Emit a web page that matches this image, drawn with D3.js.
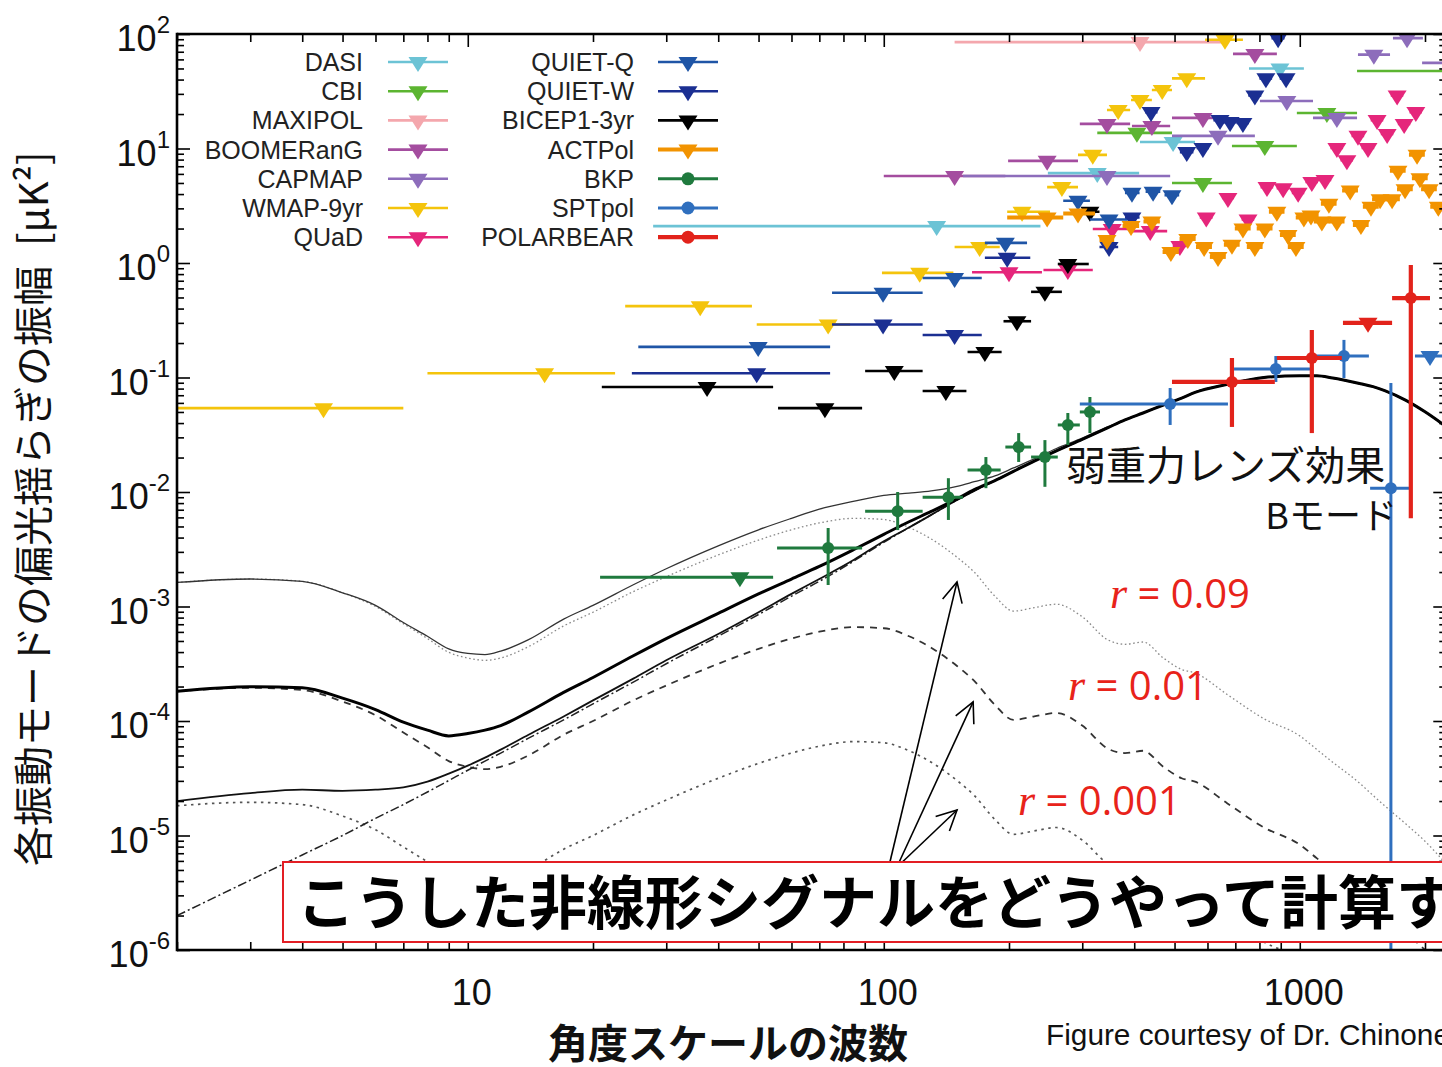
<!DOCTYPE html>
<html lang="ja">
<head>
<meta charset="utf-8">
<title>CMB Bモード偏光パワースペクトル</title>
<script src="https://cdn.jsdelivr.net/npm/d3@7/dist/d3.min.js"></script>
<style>
html,body{margin:0;padding:0;background:#fff;}
svg{display:block;}
</style>
</head>
<body>
<svg id="chart" width="1442" height="1067"></svg>
<script>
// ---------- theory curves: multipole grid and log10 D_ell^BB [μK²] ----------
const ell = [2,3,4,5,6,7,8,9,10,11,12,14,17,20,25,30,40,50,60,70,85,100,115,130,150,165,185,205,230,260,300,345,380,420,470,520,560,670,820,1000,1100,1200,1400,1500,1600,1800,2000,2250];

const lensingLog10 = [-5.70,-5.39,-5.17,-5.00,-4.85,-4.73,-4.62,-4.52,-4.43,-4.35,
  -4.28,-4.15,-3.99,-3.85,-3.66,-3.50,-3.26,-3.07,-2.91,-2.78,
  -2.60,-2.44,-2.31,-2.20,-2.07,-1.99,-1.90,-1.82,-1.73,-1.64,
  -1.54,-1.44,-1.37,-1.31,-1.24,-1.18,-1.13,-1.06,-1.00,-0.985,
  -0.985,-1.005,-1.055,-1.08,-1.115,-1.20,-1.30,-1.43];

const tensorR009Log10 = [-2.79,-2.76,-2.78,-2.88,-3.00,-3.15,-3.28,-3.40,-3.45,-3.47,
  -3.45,-3.35,-3.17,-3.05,-2.87,-2.74,-2.55,-2.42,-2.33,-2.27,
  -2.23,-2.24,-2.31,-2.41,-2.57,-2.70,-2.91,-3.04,-3.01,-2.98,
  -3.09,-3.29,-3.33,-3.31,-3.45,-3.55,-3.58,-3.77,-3.98,-4.13,
  -4.25,-4.36,-4.55,-4.65,-4.74,-4.90,-5.05,-5.25];

const tensorR001Log10 = [-3.74,-3.71,-3.73,-3.83,-3.95,-4.10,-4.23,-4.35,-4.40,-4.42,
  -4.40,-4.30,-4.12,-4.00,-3.82,-3.69,-3.50,-3.37,-3.28,-3.22,
  -3.18,-3.19,-3.26,-3.36,-3.52,-3.65,-3.86,-3.99,-3.96,-3.93,
  -4.04,-4.24,-4.28,-4.26,-4.40,-4.50,-4.53,-4.72,-4.93,-5.08,
  -5.20,-5.31,-5.50,-5.60,-5.69,-5.85,-6.00,-6.20];

const tensorR0001Log10 = [-4.74,-4.71,-4.73,-4.83,-4.95,-5.10,-5.23,-5.35,-5.40,-5.42,
  -5.40,-5.30,-5.12,-5.00,-4.82,-4.69,-4.50,-4.37,-4.28,-4.22,
  -4.18,-4.19,-4.26,-4.36,-4.52,-4.65,-4.86,-4.99,-4.96,-4.93,
  -5.04,-5.24,-5.28,-5.26,-5.40,-5.50,-5.53,-5.72,-5.93,-6.08,
  -6.20,-6.31,-6.50,-6.60,-6.69,-6.85,-7.00,-7.20];

const totalR009Log10 = [-2.79,-2.76,-2.78,-2.88,-2.99,-3.14,-3.26,-3.37,-3.41,-3.42,
  -3.39,-3.29,-3.11,-2.99,-2.81,-2.67,-2.47,-2.33,-2.23,-2.15,
  -2.08,-2.03,-2.01,-1.99,-1.95,-1.91,-1.86,-1.79,-1.71,-1.62,
  -1.53,-1.43,-1.37,-1.31,-1.24,-1.18,-1.13,-1.06,-1.00,-0.985,
  -0.985,-1.005,-1.055,-1.08,-1.115,-1.20,-1.30,-1.43];

const totalR001Log10 = [-3.74,-3.70,-3.71,-3.80,-3.90,-4.01,-4.08,-4.13,-4.11,-4.08,
  -4.04,-3.92,-3.75,-3.62,-3.43,-3.28,-3.06,-2.89,-2.76,-2.65,
  -2.50,-2.37,-2.26,-2.17,-2.06,-1.98,-1.90,-1.82,-1.73,-1.64,
  -1.54,-1.44,-1.37,-1.31,-1.24,-1.18,-1.13,-1.06,-1.00,-0.985,
  -0.985,-1.005,-1.055,-1.08,-1.115,-1.20,-1.30,-1.43];

const totalR0001Log10 = [-4.70,-4.63,-4.60,-4.61,-4.60,-4.58,-4.53,-4.46,-4.39,-4.32,
  -4.25,-4.12,-3.96,-3.82,-3.63,-3.47,-3.24,-3.05,-2.89,-2.76,
  -2.59,-2.43,-2.31,-2.20,-2.07,-1.99,-1.90,-1.82,-1.73,-1.64,
  -1.54,-1.44,-1.37,-1.31,-1.24,-1.18,-1.13,-1.06,-1.00,-0.985,
  -0.985,-1.005,-1.055,-1.08,-1.115,-1.20,-1.30,-1.43];

// ---------- measurements ----------
// upper limits: [ellMin, ell, ellMax, limit μK²]
const dasi = [[27.9,134,238,2.1],[248,326,411,6.1],[413,496,560,11.4],[755,896,1023,50]];
const cbi = [[326,406,493,13.7],[493,585,687,5.0],[687,824,984,10.5],[984,1162,1373,20.4],[1373,2450,3200,47.5]];
const maxipol = [[148,413,661,85]];
const boomerang = [[100,148,196,5.75],[199,247,293,7.8],[296,344,391,16.4],[395,441,488,15.7],[493,585,661,18.5],[691,780,881,67]];
const capmap = [[155,344,488,5.75],[493,636,780,12.9],[802,931,1076,26],[1076,1228,1373,18.5],[1380,1507,1648,66],[1675,1811,1977,92],[1968,2400,2900,56]];
const wmap9 = [[2,4.5,7.0,0.054],[8.0,15.3,22.6,0.109],[23.9,36.2,48.2,0.42],[49.5,73.5,83.0,0.29],[99,122,147,0.82],[148,170,190,1.38],[198,215,251,2.8],[247,268,293,4.6],[293,318,344,8.8],[344,366,391,21.7],[393,413,441,26.5],[441,467,493,32.4],[493,535,592,41],[592,661,730,89]];
const quad = [[163,200,240,0.83],[242,277,318,0.87],[318,354,395,1.98],[395,437,480,1.9],[495,515,535,1.41],[575,596,617,2.5],[650,672,695,3.7],[725,751,777,2.4],[805,834,863,4.6],[880,912,944,4.5],[957,991,1025,4.1],[1032,1069,1106,5.1],[1110,1150,1190,5.3],[1185,1228,1271,10.1],[1253,1298,1343,7.9],[1332,1380,1428,12.9],[1408,1459,1510,10.1],[1481,1534,1587,17.7],[1566,1622,1678,13.4],[1655,1714,1773,29],[1721,1782,1843,16.4],[1836,1901,1966,20.8]];
const quietQ = [[25.7,49.9,74.3,0.185],[75.1,99.6,124,0.55],[124,148,172,0.74],[175,196,221,1.50],[270,293,313,3.5],[313,348,385,2.4],[380,395,412,4.1],[426,444,462,4.2],[473,493,513,3.9]];
const quietW = [[24.8,49.5,74.3,0.109],[75.1,99.6,124,0.29],[124,148,172,0.235],[175,198,225,1.11],[330,348,366,1.38],[380,395,412,2.5],[425,439,455,20.8],[515,535,555,9.3],[565,585,605,10.1],[620,643,666,17.7],[655,680,705,17.0],[705,730,755,16.7],[752,780,808,29],[800,829,858,41],[855,887,919,92],[895,927,959,41]];
const bicep1 = [[21.0,37.6,54.2,0.0826],[55.7,72.2,88.7,0.054],[90.2,106,124,0.114],[124,141,158,0.0762],[159,175,192,0.167],[194,209,226,0.31],[226,244,268,0.56],[262,277,311,0.98],[300,313,330,2.8]];
const actpol = [[198,247,270,2.5],[270,293,322,2.7],[330,344,358,1.59],[375,393,411,2.1],[421,441,461,2.3],[468,490,512,1.25],[514,538,562,1.62],[563,589,615,1.38],[608,636,664,1.13],[657,687,717,1.44],[698,730,762,2.0],[746,780,814,1.38],[788,824,860,2.0],[843,881,919,2.8],[896,937,978,1.76],[936,979,1022,1.38],[978,1023,1068,2.5],[1018,1064,1110,2.6],[1081,1130,1179,2.3],[1124,1175,1226,3.3],[1175,1228,1281,2.3],[1264,1322,1380,4.3],[1342,1403,1464,2.15],[1418,1483,1548,3.1],[1492,1560,1628,3.6],[1594,1667,1740,3.6],[1647,1722,1797,6.4],[1713,1791,1869,4.4],[1830,1914,1998,8.8],[1860,1945,2030,5.5],[1957,2046,2135,4.4],[2059,2153,2247,3.1]];
const bkpLimits = [[20.8,45.1,54.2,0.0018]];
const sptpolLimits = [[1892,2056,2300,0.154]];
const polarbearLimits = [[1270,1459,1667,0.30]];
// detections: [ellMin, ell, ellMax, value, low, high]
const bkpPoints = [[55.4,73.5,88.7,0.00324,0.00154,0.00485],[90.2,108,124,0.0068,0.00465,0.0100],[124,143,155,0.0090,0.0057,0.0132],[159,176,191,0.0156,0.0108,0.0202],[196,211,226,0.0247,0.0183,0.0327],[226,244,262,0.0202,0.0111,0.0284],[262,277,296,0.0385,0.0257,0.049],[296,313,331,0.050,0.0327,0.0676]];
const sptpolPoints = [[296,488,672,0.0588,0.0385,0.081],[695,876,1069,0.1186,0.0914,0.154],[1094,1277,1466,0.154,0.099,0.213],[1476,1656,1841,0.0108,1e-7,0.0895]];
const polarbearPoints = [[493,687,871,0.0914,0.037,0.148],[881,1069,1262,0.148,0.0327,0.26],[1667,1849,2056,0.494,0.0059,0.96]];

// ---------- axis ticks and labels ----------
const yTickExponents = [2,1,0,-1,-2,-3,-4,-5,-6];
const xTickLabels = [10,100,1000];
const legendLeft = ['DASI','CBI','MAXIPOL','BOOMERanG','CAPMAP','WMAP-9yr','QUaD'];
const legendRight = ['QUIET-Q','QUIET-W','BICEP1-3yr','ACTPol','BKP','SPTpol','POLARBEAR'];

// ---------- styles ----------
const expStyle = {
  'DASI':      {color:'#6cc3d5', bar:2.6, marker:'tri'},
  'CBI':       {color:'#5cb531', bar:2.6, marker:'tri'},
  'MAXIPOL':   {color:'#f4a7ad', bar:2.6, marker:'tri'},
  'BOOMERanG': {color:'#a44d9f', bar:2.6, marker:'tri'},
  'CAPMAP':    {color:'#8d6dbb', bar:2.6, marker:'tri'},
  'WMAP-9yr':  {color:'#f4c40c', bar:2.6, marker:'tri'},
  'QUaD':      {color:'#e5267b', bar:2.6, marker:'tri'},
  'QUIET-Q':   {color:'#1f55a6', bar:2.6, marker:'tri'},
  'QUIET-W':   {color:'#1b2f92', bar:2.6, marker:'tri'},
  'BICEP1-3yr':{color:'#000000', bar:2.6, marker:'tri'},
  'ACTPol':    {color:'#f29300', bar:4.0, marker:'tri'},
  'BKP':       {color:'#1f7a3e', bar:3.0, marker:'dot'},
  'SPTpol':    {color:'#2f6fbe', bar:3.0, marker:'dot'},
  'POLARBEAR': {color:'#e2231b', bar:4.2, marker:'dot'}
};

const experiments = [
  {name:'MAXIPOL', limits:maxipol},
  {name:'DASI', limits:dasi},
  {name:'CBI', limits:cbi},
  {name:'BOOMERanG', limits:boomerang},
  {name:'CAPMAP', limits:capmap},
  {name:'WMAP-9yr', limits:wmap9},
  {name:'QUaD', limits:quad},
  {name:'BICEP1-3yr', limits:bicep1},
  {name:'QUIET-Q', limits:quietQ},
  {name:'QUIET-W', limits:quietW},
  {name:'ACTPol', limits:actpol},
  {name:'BKP', limits:bkpLimits, points:bkpPoints},
  {name:'SPTpol', limits:sptpolLimits, points:sptpolPoints},
  {name:'POLARBEAR', limits:polarbearLimits, points:polarbearPoints}
];

const curves = [
  {values:tensorR009Log10,  stroke:'#8a8a8a', width:1.3, dash:'1.6,2.6'},
  {values:tensorR001Log10,  stroke:'#333',    width:1.8, dash:'7,6'},
  {values:tensorR0001Log10, stroke:'#555',    width:1.7, dash:'2.5,4.5'},
  {values:lensingLog10,     stroke:'#222',    width:1.5, dash:'9,3,2,3'},
  {values:totalR0001Log10,  stroke:'#111',    width:1.8, dash:null},
  {values:totalR009Log10,   stroke:'#333',    width:1.3, dash:null},
  {values:totalR001Log10,   stroke:'#000',    width:3.0, dash:null}
];

const latin = "'Liberation Sans', Arial, Helvetica, sans-serif";
const cjk = "'Noto Sans CJK JP', 'Noto Sans CJK SC', sans-serif";

// ---------- scales ----------
const plotLeft = 177, plotTop = 34, plotBottom = 950;
const plotRight = plotLeft + 416 * Math.log10(2250 / 2);
const x = d3.scaleLog().domain([2, 2250]).range([plotLeft, plotRight]);
const y = d3.scaleLog().domain([1e-6, 1e2]).range([plotBottom, plotTop]);

const svg = d3.select('#chart');
svg.append('rect').attr('width', 1442).attr('height', 1067).attr('fill', '#fff');

const defs = svg.append('defs');
defs.append('clipPath').attr('id', 'plotClip')
  .append('rect').attr('x', plotLeft).attr('y', plotTop)
  .attr('width', plotRight - plotLeft).attr('height', plotBottom - plotTop);
defs.append('marker').attr('id', 'openArrow')
  .attr('markerUnits', 'userSpaceOnUse').attr('markerWidth', 30).attr('markerHeight', 30)
  .attr('viewBox', '-25 -15 30 30').attr('refX', 0).attr('refY', 0).attr('orient', 'auto')
  .append('path').attr('d', 'M-20,-10L0,0L-20,10').attr('fill', 'none')
  .attr('stroke', '#000').attr('stroke-width', 1.6);

const plot = svg.append('g').attr('clip-path', 'url(#plotClip)');

// ---------- theory curves ----------
const line = d3.line()
  .x((d, i) => x(ell[i]))
  .y(d => y(Math.pow(10, d)))
  .curve(d3.curveMonotoneX);

curves.forEach(c => {
  plot.append('path')
    .attr('d', line(c.values))
    .attr('fill', 'none')
    .attr('stroke', c.stroke)
    .attr('stroke-width', c.width)
    .attr('stroke-dasharray', c.dash)
    .attr('stroke-linejoin', 'round');
});

// ---------- markers ----------
const triPath = (hw, h) => `M${-hw},${-h / 3}L${hw},${-h / 3}L0,${2 * h / 3}Z`;

function drawLimit(g, row, st) {
  const [l0, lc, l1, v] = row;
  g.append('line')
    .attr('x1', x(l0)).attr('x2', x(l1)).attr('y1', y(v)).attr('y2', y(v))
    .attr('stroke', st.color).attr('stroke-width', st.bar);
  g.append('path')
    .attr('d', triPath(9.5, 15))
    .attr('transform', `translate(${x(lc)},${y(v)})`)
    .attr('fill', st.color);
}

function drawPoint(g, row, st) {
  const [l0, lc, l1, v, lo, hi] = row;
  g.append('line')
    .attr('x1', x(l0)).attr('x2', x(l1)).attr('y1', y(v)).attr('y2', y(v))
    .attr('stroke', st.color).attr('stroke-width', st.bar);
  g.append('line')
    .attr('x1', x(lc)).attr('x2', x(lc)).attr('y1', y(lo)).attr('y2', y(hi))
    .attr('stroke', st.color).attr('stroke-width', st.bar);
  g.append('circle')
    .attr('cx', x(lc)).attr('cy', y(v)).attr('r', 6)
    .attr('fill', st.color);
}

experiments.forEach(e => {
  const st = expStyle[e.name];
  const g = plot.append('g').attr('class', 'exp');
  (e.limits || []).forEach(r => drawLimit(g, r, st));
  (e.points || []).forEach(r => drawPoint(g, r, st));
});

// ---------- axes (inward ticks on all four sides) ----------
const decadesY = d3.range(-6, 3).map(k => Math.pow(10, k));
const minorY = [];
d3.range(-6, 2).forEach(k => { for (let m = 2; m <= 9; m++) minorY.push(m * Math.pow(10, k)); });
const majorX = [10, 100, 1000];
const minorX = [];
[1, 10, 100, 1000].forEach(k => { for (let m = 2; m <= 9; m++) { const v = m * k; if (v <= 2250) minorX.push(v); } });

const axes = svg.append('g');
function tickAxis(axisFn, scale, values, size, transform) {
  const g = axes.append('g').attr('transform', transform)
    .call(axisFn(scale).tickValues(values).tickSize(size).tickSizeOuter(0).tickFormat(() => ''));
  g.select('.domain').remove();
  g.selectAll('.tick line').attr('stroke', '#000').attr('stroke-width', 1.6);
}
tickAxis(d3.axisLeft, y, decadesY, -13, `translate(${plotLeft},0)`);
tickAxis(d3.axisLeft, y, minorY, -7, `translate(${plotLeft},0)`);
tickAxis(d3.axisRight, y, decadesY, -13, `translate(${plotRight},0)`);
tickAxis(d3.axisRight, y, minorY, -7, `translate(${plotRight},0)`);
tickAxis(d3.axisBottom, x, majorX, -13, `translate(0,${plotBottom})`);
tickAxis(d3.axisBottom, x, minorX, -8, `translate(0,${plotBottom})`);
tickAxis(d3.axisTop, x, majorX, -13, `translate(0,${plotTop})`);
tickAxis(d3.axisTop, x, minorX, -8, `translate(0,${plotTop})`);

// frame
const frame = svg.append('g').attr('stroke', '#000').attr('stroke-width', 2.6).attr('fill', 'none');
frame.append('line').attr('x1', plotLeft).attr('x2', plotLeft).attr('y1', plotTop - 1.3).attr('y2', plotBottom + 1.3);
frame.append('line').attr('x1', plotLeft).attr('x2', plotRight).attr('y1', plotTop).attr('y2', plotTop);
frame.append('line').attr('x1', plotLeft).attr('x2', plotRight).attr('y1', plotBottom).attr('y2', plotBottom);
frame.append('line').attr('x1', plotRight).attr('x2', plotRight).attr('y1', plotTop).attr('y2', plotBottom);

// y tick labels 10^n
yTickExponents.forEach(k => {
  const t = svg.append('text')
    .attr('x', 170).attr('y', y(Math.pow(10, k)) + 17)
    .attr('text-anchor', 'end')
    .attr('font-family', latin).attr('font-size', 36).attr('fill', '#111');
  t.append('tspan').text('10');
  t.append('tspan').attr('dy', -18).attr('font-size', 24).text(String(k));
});

// x tick labels
xTickLabels.forEach(v => {
  svg.append('text')
    .attr('x', x(v) + 4).attr('y', 1005)
    .attr('text-anchor', 'middle')
    .attr('font-family', latin).attr('font-size', 36).attr('fill', '#111')
    .text(String(v));
});

// ---------- legend ----------
function legendColumn(names, labelRight, symLeft, symRight) {
  names.forEach((name, i) => {
    const st = expStyle[name];
    const ly = 62 + i * 29.2;
    svg.append('text')
      .attr('x', labelRight).attr('y', ly + 9)
      .attr('text-anchor', 'end')
      .attr('font-family', latin).attr('font-size', 25).attr('fill', '#222')
      .text(name);
    svg.append('line')
      .attr('x1', symLeft).attr('x2', symRight).attr('y1', ly).attr('y2', ly)
      .attr('stroke', st.color).attr('stroke-width', st.bar);
    const cx = (symLeft + symRight) / 2;
    if (st.marker === 'tri') {
      svg.append('path').attr('d', triPath(9.5, 15))
        .attr('transform', `translate(${cx},${ly})`).attr('fill', st.color);
    } else {
      svg.append('circle').attr('cx', cx).attr('cy', ly).attr('r', 6.5).attr('fill', st.color);
    }
  });
}
legendColumn(legendLeft, 363, 388, 448);
legendColumn(legendRight, 634, 658, 718);

// ---------- annotations ----------
svg.append('text')
  .attr('x', 1066).attr('y', 480)
  .attr('font-family', cjk).attr('font-size', 40).attr('fill', '#111')
  .text('弱重力レンズ効果');
svg.append('text')
  .attr('x', 1397).attr('y', 529).attr('text-anchor', 'end')
  .attr('font-family', cjk).attr('font-size', 36).attr('fill', '#111')
  .text('Bモード');

const rLabels = [
  {text:' = 0.09', x:1110, y:608},
  {text:' = 0.01', x:1068, y:700},
  {text:' = 0.001', x:1018, y:815}
];
rLabels.forEach(d => {
  const t = svg.append('text').attr('x', d.x).attr('y', d.y)
    .attr('font-size', 40).attr('fill', '#e8231a');
  t.append('tspan').attr('font-family', "'Liberation Serif', 'DejaVu Serif', serif")
    .attr('font-style', 'italic').attr('font-size', 44).text('r');
  t.append('tspan').attr('font-family', "'Open Sans', 'Noto Sans', sans-serif").text(d.text);
});

// arrows from the caption toward the three tensor curves
const arrowBase = [[103.5, 5.9e-6], [109, 5.9e-6], [111, 5.9e-6]];
const arrowTip = [[150, 1.64e-3], [164, 1.47e-4], [150, 1.67e-5]];
arrowTip.forEach((tip, i) => {
  svg.append('line')
    .attr('x1', x(arrowBase[i][0])).attr('y1', y(arrowBase[i][1]))
    .attr('x2', x(tip[0])).attr('y2', y(tip[1]))
    .attr('stroke', '#000').attr('stroke-width', 1.6)
    .attr('marker-end', 'url(#openArrow)');
});

// caption box
svg.append('rect')
  .attr('x', 283).attr('y', 862).attr('width', 1250).attr('height', 80)
  .attr('fill', '#fff').attr('stroke', '#e31e24').attr('stroke-width', 2);
svg.append('text')
  .attr('x', 297).attr('y', 924)
  .attr('font-family', cjk).attr('font-size', 58).attr('font-weight', 700).attr('fill', '#000')
  .text('こうした非線形シグナルをどうやって計算するか？');

// axis titles
svg.append('text')
  .attr('transform', 'translate(48,866) rotate(-90)')
  .attr('font-family', cjk).attr('font-size', 40).attr('fill', '#111')
  .text('各振動モードの偏光揺らぎの振幅')
  .append('tspan').attr('dx', 20).text('[μK²]');

svg.append('text')
  .attr('x', 728).attr('y', 1058).attr('text-anchor', 'middle')
  .attr('font-family', cjk).attr('font-size', 40).attr('font-weight', 700).attr('fill', '#111')
  .text('角度スケールの波数');

svg.append('text')
  .attr('x', 1046).attr('y', 1045)
  .attr('font-family', latin).attr('font-size', 29).attr('fill', '#111')
  .attr('textLength', 404).attr('lengthAdjust', 'spacingAndGlyphs')
  .text('Figure courtesy of Dr. Chinone');
</script>
</body>
</html>
